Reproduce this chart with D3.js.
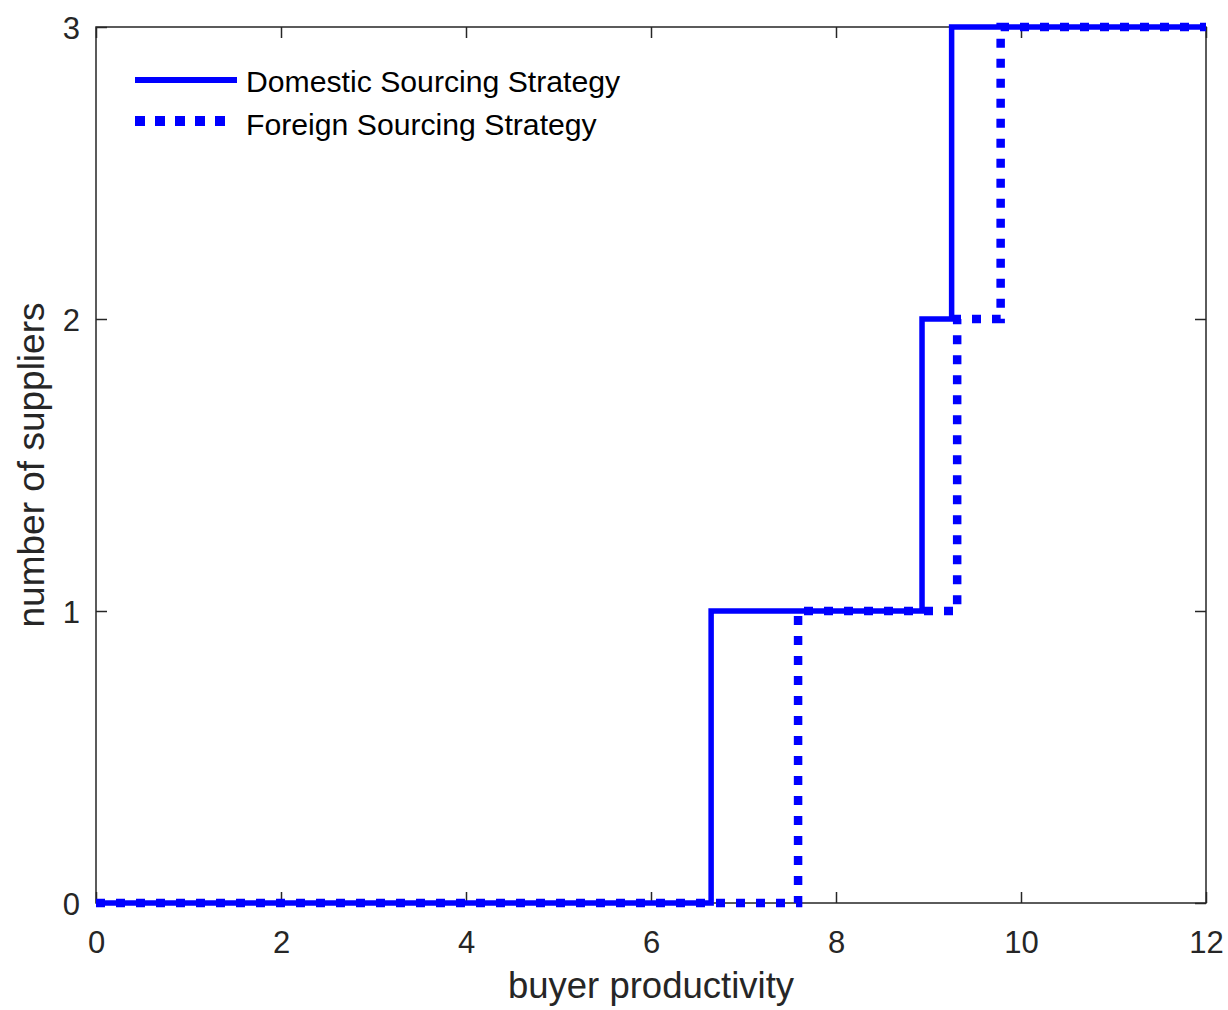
<!DOCTYPE html>
<html><head><meta charset="utf-8">
<script src="https://cdn.jsdelivr.net/npm/d3@7"></script>
<style>body{margin:0;background:#fff}svg{display:block}text{font-family:"Liberation Sans",Arial,sans-serif;fill:#262626}</style>
</head><body>
<script>
const domesticX = [0, 6.65, 8.93, 9.25, 12];
const domesticY = [0, 1, 2, 3, 3];
const foreignX = [0, 7.59, 9.31, 9.78, 12];
const foreignY = [0, 1, 2, 3, 3];
const xTicks = [0, 2, 4, 6, 8, 10, 12];
const yTicks = [0, 1, 2, 3];
const seriesNames = ["Domestic Sourcing Strategy", "Foreign Sourcing Strategy"];

const W = 1228, H = 1010;
const m = {l: 96, r: 22, t: 27, b: 107};
const svg = d3.select("body").append("svg").attr("width", W).attr("height", H);
const x = d3.scaleLinear().domain([0, 12]).range([m.l, W - m.r]);
const y = d3.scaleLinear().domain([0, 3]).range([H - m.b, m.t]);
const ax = "#262626";
const FF = '"Liberation Sans",Arial,sans-serif';

// box
svg.append("rect").attr("x", x(0)).attr("y", y(3)).attr("width", x(12) - x(0)).attr("height", y(0) - y(3))
  .attr("fill", "none").attr("stroke", ax).attr("stroke-width", 1.5);

const tl = 11;
const gx = svg.append("g").attr("transform", `translate(0,${y(0)})`)
  .call(d3.axisBottom(x).tickValues(xTicks).tickSize(-tl).tickFormat(d3.format("d")));
const gxt = svg.append("g").attr("transform", `translate(0,${y(3)})`)
  .call(d3.axisTop(x).tickValues(xTicks).tickSize(-tl).tickFormat(""));
const gy = svg.append("g").attr("transform", `translate(${x(0)},0)`)
  .call(d3.axisLeft(y).tickValues(yTicks).tickSize(-tl).tickFormat(d3.format("d")));
const gyr = svg.append("g").attr("transform", `translate(${x(12)},0)`)
  .call(d3.axisRight(y).tickValues(yTicks).tickSize(-tl).tickFormat(""));
[gx, gxt, gy, gyr].forEach(g => {
  g.attr("font-size", null).attr("font-family", null);
  g.select(".domain").remove();
  g.selectAll("line").attr("stroke", ax).attr("stroke-width", 1.5);
  g.selectAll("text").attr("font-size", 31).attr("fill", ax).style("font-family", FF);
});
gx.selectAll("text").attr("y", 50).attr("dy", null);
gy.selectAll("text").attr("x", -16).attr("dy", "0.36em");

// labels
svg.append("text").attr("x", (x(0) + x(12)) / 2).attr("y", 998).attr("text-anchor", "middle")
  .attr("font-size", 36.5).text("buyer productivity");
svg.append("text").attr("transform", `translate(44,${(y(0) + y(3)) / 2}) rotate(-90)`)
  .attr("text-anchor", "middle").attr("font-size", 37).text("number of suppliers");

const line = d3.line().x(d => x(d[0])).y(d => y(d[1])).curve(d3.curveStepAfter);
const dom = domesticX.map((v, i) => [v, domesticY[i]]);
const fr = foreignX.map((v, i) => [v, foreignY[i]]);
const clip = svg.append("defs").append("clipPath").attr("id", "c").append("rect")
  .attr("x", x(0)).attr("y", y(3) - 6).attr("width", x(12) - x(0)).attr("height", y(0) - y(3) + 12);
svg.append("path").datum(dom).attr("d", line).attr("fill", "none").attr("stroke", "#0000ff")
  .attr("stroke-width", 5.5).attr("stroke-linejoin", "miter").attr("clip-path", "url(#c)");
svg.append("path").datum(fr).attr("d", line).attr("fill", "none").attr("stroke", "#0000ff")
  .attr("stroke-width", 8.5).attr("stroke-dasharray", "9,11").attr("stroke-linecap", "butt").attr("clip-path", "url(#c)");

// legend
const lg = svg.append("g");
lg.append("line").attr("x1", 135).attr("x2", 237).attr("y1", 80).attr("y2", 80)
  .attr("stroke", "#0000ff").attr("stroke-width", 6);
lg.append("line").attr("x1", 135).attr("x2", 231).attr("y1", 121).attr("y2", 121)
  .attr("stroke", "#0000ff").attr("stroke-width", 10).attr("stroke-dasharray", "10,10");
lg.append("text").attr("x", 246).attr("y", 92).attr("font-size", 30.2).style("fill", "#000").text(seriesNames[0]);
lg.append("text").attr("x", 246).attr("y", 135).attr("font-size", 30.2).style("fill", "#000").text(seriesNames[1]);
</script>
</body></html>
